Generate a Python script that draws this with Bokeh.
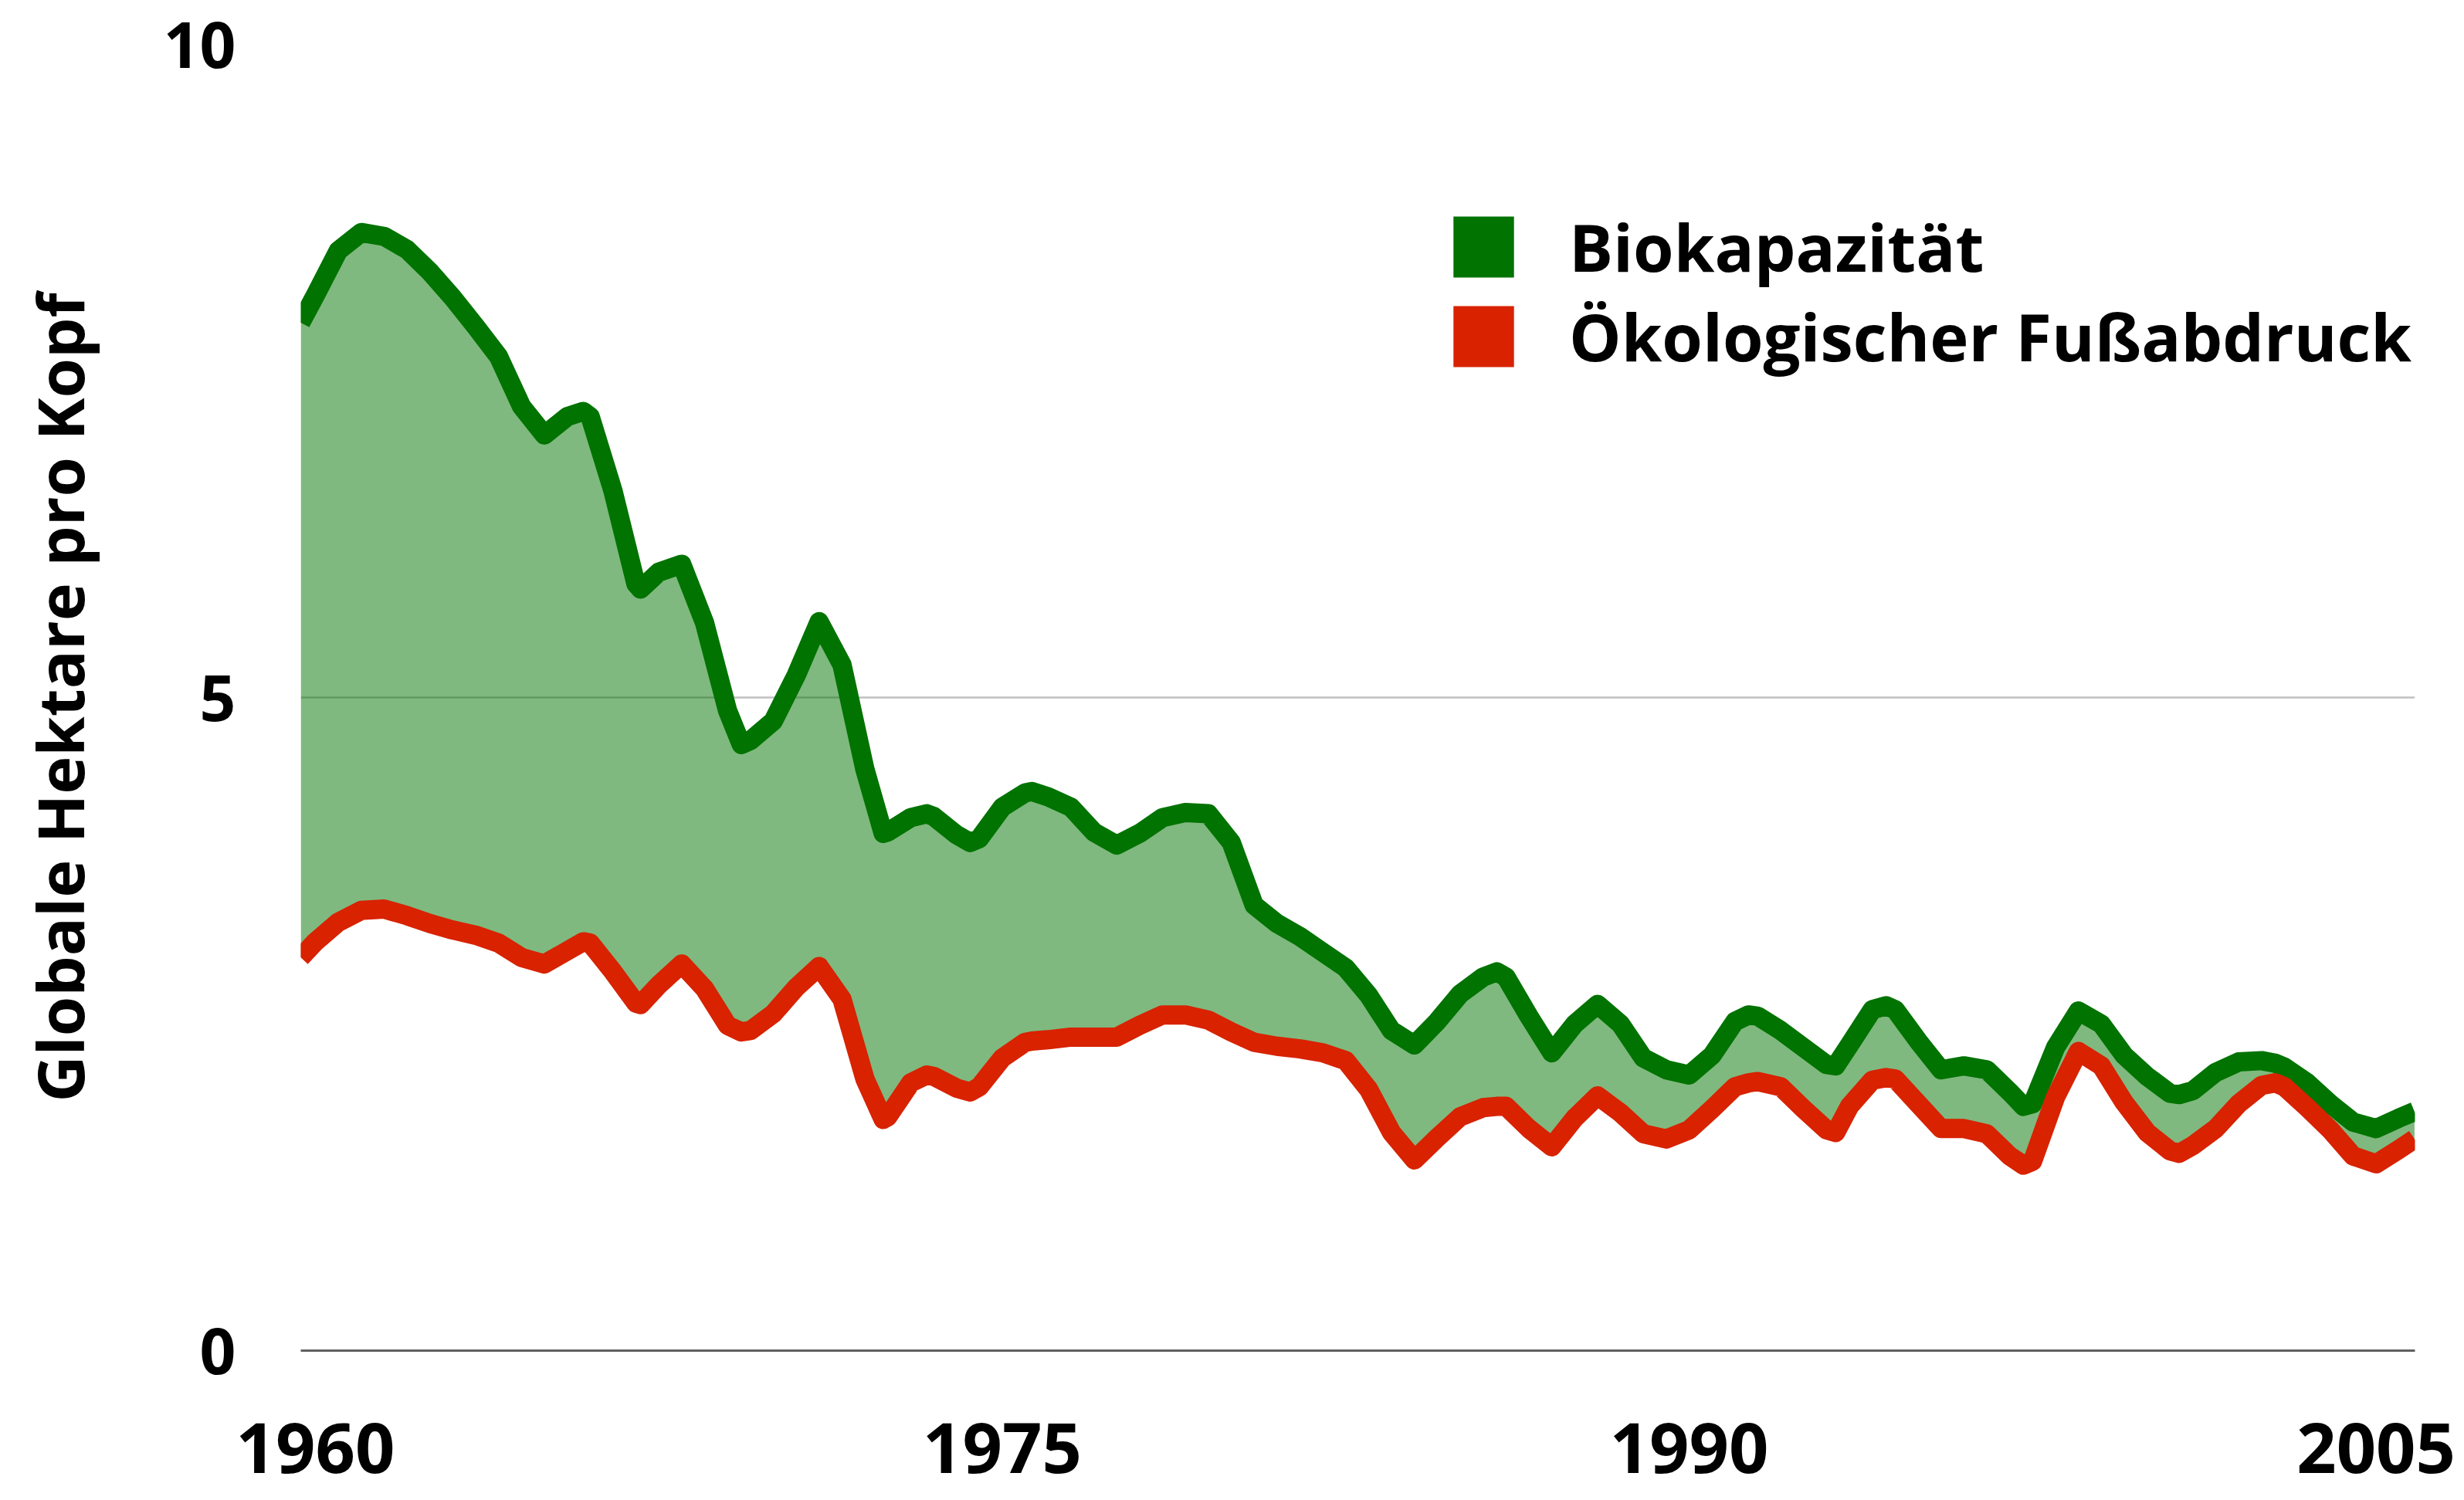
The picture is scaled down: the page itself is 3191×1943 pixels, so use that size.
import numpy as np
from bokeh.plotting import figure
from bokeh.models import Range1d, FixedTicker, Legend, LegendItem
from bokeh.embed import file_html
from bokeh.resources import INLINE

# sampling positions (years)
years = [1959.68,
         1960.0, 1960.5, 1961.0, 1961.5, 1962.0, 1962.5, 1963.0, 1963.5, 1964.0, 1964.5,
         1965.0, 1965.5, 1965.85, 1966.0, 1966.5, 1967.0, 1967.1, 1967.5, 1968.0, 1968.5,
         1969.0, 1969.3, 1969.5, 1970.0, 1970.5, 1971.0, 1971.5, 1972.0, 1972.4, 1972.5,
         1973.0, 1973.35, 1973.5, 1974.0, 1974.3, 1974.5, 1975.0, 1975.5, 1975.65, 1976.0,
         1976.5, 1977.0, 1977.5, 1978.0, 1978.5, 1979.0, 1979.5, 1980.0, 1980.5, 1981.0,
         1981.5, 1982.0, 1982.5, 1983.0, 1983.5, 1984.0, 1984.5, 1985.0, 1985.5, 1985.8,
         1986.0, 1986.5, 1987.0, 1987.5, 1988.0, 1988.5, 1989.0, 1989.5, 1990.0, 1990.5,
         1991.0, 1991.3, 1991.5, 1992.0, 1992.5, 1993.0, 1993.2, 1993.5, 1994.0, 1994.3,
         1994.5, 1995.0, 1995.5, 1996.0, 1996.5, 1997.0, 1997.3, 1997.5, 1998.0, 1998.5,
         1999.0, 1999.5, 2000.0, 2000.5, 2000.7, 2001.0, 2001.5, 2002.0, 2002.5, 2002.8,
         2003.0, 2003.5, 2004.0, 2004.5, 2005.0, 2005.5, 2005.84]

# Biokapazität (global hectares per person)
biocapacity = [7.87,
               8.08, 8.42, 8.56, 8.53, 8.43, 8.26, 8.06, 7.84, 7.61, 7.23,
               7.01, 7.15, 7.19, 7.15, 6.58, 5.87, 5.83, 5.96, 6.02, 5.57,
               4.90, 4.64, 4.67, 4.82, 5.17, 5.58, 5.25, 4.45, 3.96, 3.97,
               4.08, 4.11, 4.09, 3.95, 3.89, 3.92, 4.16, 4.27, 4.28, 4.24,
               4.16, 3.97, 3.87, 3.96, 4.08, 4.12, 4.11, 3.89, 3.41, 3.27,
               3.17, 3.05, 2.93, 2.72, 2.45, 2.34, 2.52, 2.73, 2.86, 2.90,
               2.86, 2.56, 2.28, 2.50, 2.65, 2.50, 2.24, 2.15, 2.11, 2.26,
               2.52, 2.57, 2.56, 2.45, 2.32, 2.19, 2.18, 2.34, 2.61, 2.64,
               2.61, 2.37, 2.15, 2.18, 2.15, 1.98, 1.87, 1.89, 2.32, 2.60,
               2.50, 2.26, 2.10, 1.97, 1.96, 1.99, 2.13, 2.21, 2.22, 2.20,
               2.17, 2.05, 1.89, 1.75, 1.70, 1.78, 1.83]

# Ökologischer Fußabdruck (global hectares per person)
footprint = [3.01,
             3.13, 3.28, 3.37, 3.38, 3.33, 3.27, 3.22, 3.18, 3.12, 3.01,
             2.96, 3.06, 3.13, 3.12, 2.90, 2.66, 2.65, 2.80, 2.96, 2.77,
             2.49, 2.44, 2.45, 2.58, 2.78, 2.94, 2.69, 2.08, 1.77, 1.79,
             2.05, 2.11, 2.10, 2.01, 1.98, 2.02, 2.24, 2.36, 2.37, 2.38,
             2.40, 2.40, 2.40, 2.49, 2.57, 2.57, 2.53, 2.44, 2.36, 2.33,
             2.31, 2.28, 2.22, 2.00, 1.67, 1.46, 1.63, 1.79, 1.86, 1.87,
             1.87, 1.70, 1.56, 1.78, 1.95, 1.82, 1.66, 1.62, 1.69, 1.85,
             2.02, 2.05, 2.06, 2.02, 1.85, 1.69, 1.67, 1.87, 2.07, 2.09,
             2.08, 1.89, 1.70, 1.70, 1.66, 1.49, 1.42, 1.45, 1.94, 2.29,
             2.18, 1.90, 1.67, 1.53, 1.51, 1.57, 1.70, 1.89, 2.03, 2.05,
             2.02, 1.86, 1.69, 1.49, 1.43, 1.54, 1.62]

x_ticks = [1960, 1975, 1990, 2005]
y_ticks = [0, 5, 10]
series_labels = ["Biokapazität", "Ökologischer Fußabdruck"]

GREEN = "#007300"
RED = "#D82200"
FONT = "Open Sans"

p = figure(width=3191, height=1943, output_backend="svg", toolbar_location=None,
           x_range=Range1d(1959.68, 2005.85), y_range=Range1d(0, 10),
           min_border_left=389, min_border_right=64, min_border_top=57,
           min_border_bottom=194)
p.outline_line_color = None
p.background_fill_color = "white"

# fill between the two curves
p.varea(x=years, y1=footprint, y2=biocapacity, fill_color=GREEN, fill_alpha=0.5)
p.line(x=years, y=biocapacity, line_color=GREEN, line_width=25, line_join="round")
p.line(x=years, y=footprint, line_color=RED, line_width=25, line_join="round")

# legend proxies: one NaN row each, so nothing shows in the plot area
nan_col = np.array([np.nan])
r_bio = p.quad(left=nan_col, right=nan_col, top=nan_col, bottom=nan_col,
               fill_color=GREEN, line_color=None)
r_foot = p.quad(left=nan_col, right=nan_col, top=nan_col, bottom=nan_col,
                fill_color=RED, line_color=None)
legend = Legend(items=[LegendItem(label=series_labels[0], renderers=[r_bio]),
                       LegendItem(label=series_labels[1], renderers=[r_foot])],
                location=(1483, 1256), orientation="vertical",
                glyph_width=98, glyph_height=99, label_standoff=62,
                label_text_font=FONT, label_text_font_style="bold",
                label_text_font_size="85px", label_text_color="black",
                spacing=-2, padding=0, margin=0, border_line_color=None,
                background_fill_alpha=0)
p.add_layout(legend)

# axes
p.xaxis.ticker = FixedTicker(ticks=x_ticks)
p.xaxis.minor_tick_line_color = None
p.xaxis.major_tick_line_color = None
p.xaxis.major_tick_out = 0
p.xaxis.major_tick_in = 0
p.xaxis.axis_line_color = "#606060"
p.xaxis.axis_line_width = 3
p.xaxis.major_label_standoff = 93
p.xaxis.major_label_text_font = FONT
p.xaxis.major_label_text_font_style = "bold"
p.xaxis.major_label_text_font_size = "90px"
p.xaxis.major_label_text_color = "black"

p.yaxis.ticker = FixedTicker(ticks=y_ticks)
p.yaxis.minor_tick_line_color = None
p.yaxis.major_tick_line_color = None
p.yaxis.major_tick_out = 0
p.yaxis.major_tick_in = 0
p.yaxis.axis_line_color = None
p.yaxis.major_label_standoff = 84
p.yaxis.major_label_text_font = FONT
p.yaxis.major_label_text_font_style = "bold"
p.yaxis.major_label_text_font_size = "82px"
p.yaxis.major_label_text_color = "black"
p.yaxis.axis_label = "Globale Hektare pro Kopf"
p.yaxis.axis_label_text_font = FONT
p.yaxis.axis_label_text_font_style = "bold"
p.yaxis.axis_label_text_font_size = "83px"
p.yaxis.axis_label_text_color = "black"
p.yaxis.axis_label_standoff = 76

p.xgrid.visible = False
p.ygrid.ticker = FixedTicker(ticks=[5, 10])
p.ygrid.grid_line_color = "#C0C0C0"
p.ygrid.grid_line_width = 2.5

open("out.html", "w").write(file_html(p, INLINE))
